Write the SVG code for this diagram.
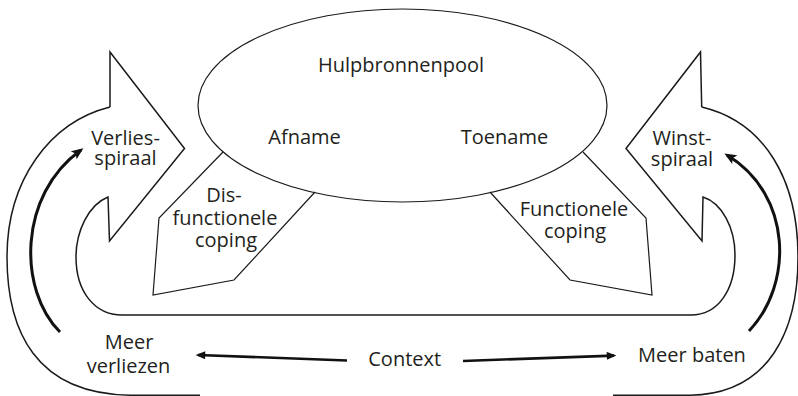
<svg xmlns="http://www.w3.org/2000/svg" width="798" height="396" viewBox="0 0 798 396">
<style>
  text { font-family: "Open Sans", "Noto Sans", "Liberation Sans", sans-serif; font-size: 20px; fill: #231f20; text-anchor: middle; }
  .outline { fill: none; stroke: #1a1a1a; stroke-width: 1.5; stroke-linejoin: miter; }
  .thin { fill: none; stroke: #1a1a1a; stroke-width: 1.2; }
  .arc { fill: none; stroke: #111; stroke-width: 3; }
  .ctx { fill: none; stroke: #111; stroke-width: 2.6; }
</style>
<defs>
  <marker id="head" viewBox="0 0 12 10" markerWidth="13" markerHeight="10" refX="9" refY="5" orient="auto" markerUnits="userSpaceOnUse">
    <path d="M0,0 L12,5 L0,10 L2.5,5 Z" fill="#111"/>
  </marker>
  <marker id="headS" viewBox="0 0 12 10" markerWidth="12" markerHeight="8" refX="9" refY="5" orient="auto" markerUnits="userSpaceOnUse">
    <path d="M0,0 L12,5 L0,10 Z" fill="#111"/>
  </marker>
</defs>

<g id="spiral-frame">
  <!-- inner contour with both arrow heads -->
  <path class="outline" d="M110,107 L110,52 L184.5,148.5 L109.5,241 L108,197 C88,205 76,232 76,257 C76,292 95,315 122,315 L691,315 C718,315 735,290 735,255 C735,228 722,203 703,197 L702,241 L626,148.5 L700.5,52 L701.7,107"/>
  <!-- outer left curve -->
  <path class="outline" d="M110,107 C50,122 7,180 7,257 C7,330 35,394 130,395.2 L200,395.2"/>
  <!-- outer right curve -->
  <path class="outline" d="M701.7,107 C765,122 798,180 798,257 C798,330 770,394 690,395.2 L613,395.2"/>
</g>

<g id="dysfunctional-coping">
  <polyline class="thin" points="223,152 159,218 153,295 234,280 315,192"/>
  <text x="224" y="202">Dis-</text>
  <text x="225" y="225">functionele</text>
  <text x="226" y="247">coping</text>
</g>

<g id="functional-coping">
  <polyline class="thin" points="490,192 570,280 652,295 646,218 583,152"/>
  <text x="574" y="216">Functionele</text>
  <text x="575" y="238">coping</text>
</g>

<g id="resource-pool">
  <ellipse class="thin" cx="402.5" cy="105.5" rx="204.5" ry="96.5" fill="none"/>
  <text x="401" y="72">Hulpbronnenpool</text>
  <text x="304.5" y="144">Afname</text>
  <text x="504.5" y="144">Toename</text>
</g>

<g id="loss-spiral">
  <text x="125.5" y="145">Verlies-</text>
  <text x="125.5" y="165">spiraal</text>
</g>

<g id="gain-spiral">
  <text x="682" y="145">Winst-</text>
  <text x="682" y="166">spiraal</text>
</g>

<g id="more-losses">
  <text x="129" y="349">Meer</text>
  <text x="128.5" y="372.5">verliezen</text>
</g>

<g id="context">
  <text x="404.7" y="366">Context</text>
</g>

<g id="more-gains">
  <text x="692" y="361.5">Meer baten</text>
</g>

<g id="connectors">
  <path class="arc" d="M60,332 C18,290 18,195 81,150" marker-end="url(#head)"/>
  <path class="arc" d="M749,331 C793,285 793,195 727,155" marker-end="url(#head)"/>
  <path class="ctx" d="M347,360.5 L198,355" marker-end="url(#headS)"/>
  <path class="ctx" d="M463,361 L614,355.6" marker-end="url(#headS)"/>
</g>
</svg>
